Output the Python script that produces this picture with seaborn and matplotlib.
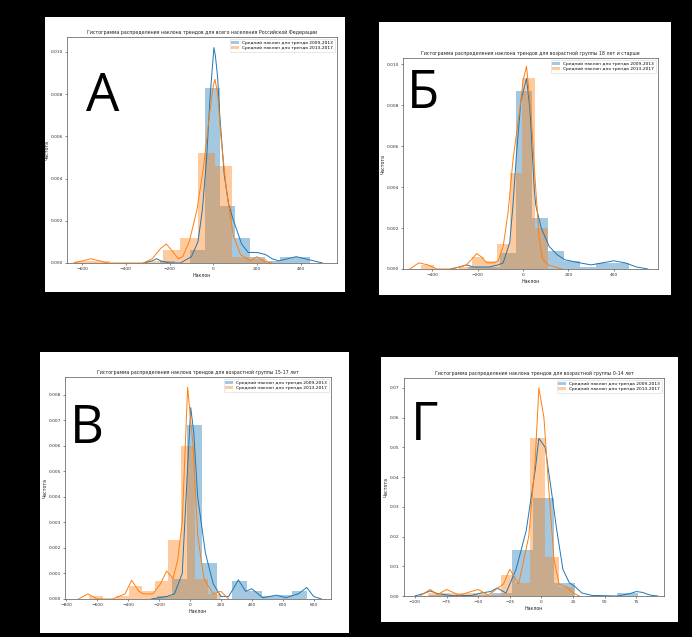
import numpy as np
import pandas as pd
import matplotlib
matplotlib.use('Agg')
import matplotlib.pyplot as plt
import seaborn as sns
from matplotlib.patches import Rectangle, Patch

# ---- data ----
LEGEND_LABELS = ['Средний наклон для тренда 2009-2013', 'Средний наклон для тренда 2013-2017']

A_TITLE = 'Гистограмма распределения наклона трендов для всего населения Российской Федерации'
A_BLUE_EDGES = [-245, -176, -107, -38, 31, 100, 169, 238, 307, 376, 445]
A_BLUE_HEIGHTS = [0.0001, 0.0, 0.0006, 0.0083, 0.0027, 0.0012, 0.0003, 0.0001, 0.0003, 0.0003]
A_ORANGE_EDGES = [-632, -552, -472, -392, -312, -232, -152, -72, 8, 88, 168, 248]
A_ORANGE_HEIGHTS = [0.0001, 0.0001, 0.0, 0.0, 0.0001, 0.0006, 0.0012, 0.0052, 0.0046, 0.0003, 0.0002]
A_BLUE_KDE_X = [-320, -280, -260, -240, -200, -150, -100, -70, -50, -30, -15, 0, 3, 10, 20, 30, 50, 70, 90, 110, 130, 160, 200, 240, 270, 300, 340, 380, 420, 460, 500]
A_BLUE_KDE_Y = [0.0, 0.0001, 0.0002, 0.0001, 0.0, 0.0, 0.0003, 0.0010, 0.0025, 0.0050, 0.0078, 0.0098, 0.0102, 0.0098, 0.0088, 0.0070, 0.0042, 0.0028, 0.0021, 0.0015, 0.0009, 0.0005, 0.0005, 0.0004, 0.0002, 0.0001, 0.0002, 0.0003, 0.0002, 0.0001, 0.0]
A_ORANGE_KDE_X = [-640, -600, -560, -520, -480, -400, -320, -280, -240, -215, -190, -160, -140, -110, -75, -45, -20, 0, 8, 20, 35, 60, 92, 125, 170, 200, 230, 270]
A_ORANGE_KDE_Y = [0.0, 0.0001, 0.0002, 0.0001, 0.0, 0.0, 0.0, 0.0002, 0.0007, 0.0009, 0.0006, 0.0002, 0.0003, 0.0010, 0.0025, 0.0045, 0.0068, 0.0084, 0.0087, 0.0080, 0.0060, 0.0035, 0.0013, 0.0004, 0.0001, 0.0003, 0.0001, 0.0]

B_TITLE = 'Гистограмма распределения наклона трендов для возрастной группы 18 лет и старше'
B_BLUE_EDGES = [-245, -174, -103, -32, 39, 110, 181, 252, 323, 394, 465]
B_BLUE_HEIGHTS = [0.0001, 0.0001, 0.0008, 0.0087, 0.0025, 0.0009, 0.0004, 0.0001, 0.0003, 0.0003]
B_ORANGE_EDGES = [-451, -395, -339, -283, -227, -171, -115, -59, -3, 53, 109]
B_ORANGE_HEIGHTS = [0.0002, 0.0, 0.0, 0.0001, 0.0006, 0.00037, 0.0012, 0.0047, 0.0093, 0.0020]
B_BLUE_KDE_X = [-320, -280, -250, -220, -200, -150, -110, -88, -59, -45, -30, -10, 15, 30, 49, 56, 80, 115, 150, 184, 250, 300, 350, 400, 450, 500, 550]
B_BLUE_KDE_Y = [0.0, 0.0001, 0.0002, 0.0001, 0.0001, 0.0001, 0.0002, 0.0003, 0.0013, 0.0031, 0.0055, 0.0082, 0.0093, 0.0078, 0.0039, 0.0031, 0.0020, 0.0011, 0.0007, 0.00045, 0.0003, 0.0002, 0.0003, 0.0004, 0.0003, 0.0001, 0.0]
B_ORANGE_KDE_X = [-500, -460, -420, -380, -320, -280, -250, -225, -205, -185, -160, -130, -110, -88, -66, -45, -15, 0, 15, 37, 52, 70, 85, 110, 140, 170]
B_ORANGE_KDE_Y = [0.0, 0.0003, 0.0002, 0.0, 0.0, 0.0001, 0.0002, 0.0005, 0.00075, 0.0006, 0.0003, 0.0003, 0.0004, 0.0011, 0.0028, 0.0053, 0.0078, 0.0092, 0.0099, 0.0073, 0.0045, 0.0016, 0.0005, 0.0002, 0.0001, 0.0]

C_TITLE = 'Гистограмма распределения наклона трендов для возрастной группы 15-17 лет'
C_BLUE_EDGES = [-215, -118, -21, 76, 173, 270, 367, 464, 561, 658, 755]
C_BLUE_HEIGHTS = [0.0001, 0.0008, 0.0068, 0.0014, 0.0, 0.0007, 0.0003, 0.0001, 0.00015, 0.0003]
C_ORANGE_EDGES = [-650, -565, -480, -395, -310, -225, -140, -55, 30, 115, 200]
C_ORANGE_HEIGHTS = [0.0001, 0.0, 0.0001, 0.0005, 0.0003, 0.0007, 0.0023, 0.0060, 0.0008, 0.0002]
C_BLUE_KDE_X = [-250, -150, -100, -50, -25, 5, 25, 50, 100, 150, 200, 250, 280, 313, 360, 400, 470, 560, 620, 700, 755, 800, 850]
C_BLUE_KDE_Y = [0.0, 0.0001, 0.0002, 0.0010, 0.0040, 0.0075, 0.0065, 0.0040, 0.0018, 0.0006, 0.0001, 0.0001, 0.0004, 0.00075, 0.0003, 0.0004, 0.00005, 0.00015, 0.00005, 0.0002, 0.00045, 0.0001, 0.0]
C_ORANGE_KDE_X = [-720, -660, -600, -500, -420, -377, -330, -300, -240, -190, -151, -110, -80, -50, -15, 20, 50, 90, 150, 200, 250]
C_ORANGE_KDE_Y = [0.0, 0.0002, 0.0, 0.0, 0.0002, 0.00073, 0.0003, 0.0002, 0.0002, 0.0006, 0.0011, 0.0008, 0.0015, 0.0030, 0.0083, 0.0060, 0.0025, 0.0008, 0.0002, 0.0003, 0.0]

D_TITLE = 'Гистограмма распределения наклона трендов для возрастной группы 0-14 лет'
D_BLUE_EDGES = [-89, -72.5, -56, -39.5, -23, -6.5, 10, 26.5, 43, 59.5, 76, 92.5]
D_BLUE_HEIGHTS = [0.0005, 0.0, 0.0002, 0.0010, 0.0155, 0.0330, 0.0045, 0.0, 0.0, 0.0010, 0.0]
D_ORANGE_EDGES = [-89.5, -78, -66.5, -55, -43.5, -32, -20.5, -9, 2.5, 14, 25.5]
D_ORANGE_HEIGHTS = [0.0010, 0.0010, 0.0010, 0.0010, 0.0005, 0.0070, 0.0045, 0.0530, 0.0130, 0.0030]
D_BLUE_KDE_X = [-100, -92, -88, -82, -70, -55, -48, -40, -35, -28, -20, -12, -5, -2, 3, 8, 12, 17, 22, 27, 32, 40, 60, 70, 75, 80, 86, 92]
D_BLUE_KDE_Y = [0.0, 0.0010, 0.0017, 0.0008, 0.0001, 0.0002, 0.0010, 0.0015, 0.0027, 0.0010, 0.0090, 0.0220, 0.0420, 0.0530, 0.0500, 0.0350, 0.0225, 0.0090, 0.0045, 0.0030, 0.0010, 0.0002, 0.0, 0.0008, 0.0015, 0.0012, 0.0003, 0.0]
D_ORANGE_KDE_X = [-96, -88, -82, -75, -65, -50, -42, -30, -25, -18, -10, -5, -2, 2, 6, 10, 14, 20, 25, 30]
D_ORANGE_KDE_Y = [0.0, 0.0022, 0.0005, 0.0022, 0.0003, 0.0022, 0.0003, 0.0040, 0.0090, 0.0040, 0.0200, 0.0450, 0.0700, 0.0600, 0.0350, 0.0120, 0.0040, 0.0030, 0.0010, 0.0]

# ---- layout (pixels in a 692x637 canvas) ----
W, H = 692, 637
panels = [
    dict(sheet=(45, 17, 345, 292), box=(67, 37, 337, 263), xlim=(-670, 567), ylim=(0, 0.0107),
         yticks=np.arange(0, 0.0101, 0.002), fmt='{:.3f}', letter='А', lpos=(86, 111),
         title=A_TITLE, be=A_BLUE_EDGES, bh=A_BLUE_HEIGHTS, oe=A_ORANGE_EDGES, oh=A_ORANGE_HEIGHTS,
         bkx=A_BLUE_KDE_X, bky=A_BLUE_KDE_Y, okx=A_ORANGE_KDE_X, oky=A_ORANGE_KDE_Y),
    dict(sheet=(379, 22, 671, 295), box=(403, 58, 658, 269), xlim=(-530, 595), ylim=(0, 0.0103),
         yticks=np.arange(0, 0.0101, 0.002), fmt='{:.3f}', letter='Б', lpos=(407, 108),
         title=B_TITLE, be=B_BLUE_EDGES, bh=B_BLUE_HEIGHTS, oe=B_ORANGE_EDGES, oh=B_ORANGE_HEIGHTS,
         bkx=B_BLUE_KDE_X, bky=B_BLUE_KDE_Y, okx=B_ORANGE_KDE_X, oky=B_ORANGE_KDE_Y),
    dict(sheet=(40, 352, 349, 633), box=(65, 377, 331, 599), xlim=(-808, 912), ylim=(0, 0.0087),
         yticks=np.arange(0, 0.0081, 0.001), fmt='{:.3f}', letter='В', lpos=(70, 443),
         title=C_TITLE, be=C_BLUE_EDGES, bh=C_BLUE_HEIGHTS, oe=C_ORANGE_EDGES, oh=C_ORANGE_HEIGHTS,
         bkx=C_BLUE_KDE_X, bky=C_BLUE_KDE_Y, okx=C_ORANGE_KDE_X, oky=C_ORANGE_KDE_Y),
    dict(sheet=(381, 357, 678, 622), box=(404, 378, 664, 596), xlim=(-108.6, 96.9), ylim=(0, 0.0733),
         yticks=np.arange(0, 0.071, 0.01), fmt='{:.2f}', letter='Г', lpos=(411, 440),
         title=D_TITLE, be=D_BLUE_EDGES, bh=D_BLUE_HEIGHTS, oe=D_ORANGE_EDGES, oh=D_ORANGE_HEIGHTS,
         bkx=D_BLUE_KDE_X, bky=D_BLUE_KDE_Y, okx=D_ORANGE_KDE_X, oky=D_ORANGE_KDE_Y),
]

fig = plt.figure(figsize=(W / 100, H / 100), dpi=100, facecolor='black')

BLUE, ORANGE = '#1f77b4', '#ff7f0e'

for p in panels:
    x0, y0, x1, y1 = p['sheet']
    fig.patches.append(Rectangle((x0 / W, 1 - y1 / H), (x1 - x0) / W, (y1 - y0) / H,
                                 transform=fig.transFigure, facecolor='white', edgecolor='none', zorder=-10))
    bx0, by0, bx1, by1 = p['box']
    ax = fig.add_axes([bx0 / W, 1 - by1 / H, (bx1 - bx0) / W, (by1 - by0) / H])
    ax.set_facecolor('white')

    for edges, heights, col in [(p['be'], p['bh'], BLUE), (p['oe'], p['oh'], ORANGE)]:
        centers = [(a + b) / 2 for a, b in zip(edges[:-1], edges[1:])]
        df = pd.DataFrame({'x': centers, 'w': heights})
        sns.histplot(data=df, x='x', weights='w', bins=list(edges), stat='count', color=col,
                     alpha=0.4, linewidth=0, ax=ax)
    sns.lineplot(x=p['bkx'], y=p['bky'], color=BLUE, linewidth=0.7, ax=ax, estimator=None)
    sns.lineplot(x=p['okx'], y=p['oky'], color=ORANGE, linewidth=0.7, ax=ax, estimator=None)

    ax.set_xlim(*p['xlim'])
    ax.set_ylim(*p['ylim'])
    ax.set_yticks(p['yticks'])
    ax.set_yticklabels([p['fmt'].format(v) for v in p['yticks']])
    ax.tick_params(labelsize=3.2, length=1.5, width=0.4, pad=1.5, colors='#333333')
    for s in ax.spines.values():
        s.set_linewidth(0.5)
        s.set_color('#555555')
    ax.set_title(p['title'], fontsize=3.4, pad=2.5, color='#222222')
    ax.set_xlabel('Наклон', fontsize=3.4, labelpad=1.5, color='#222222')
    ax.set_ylabel('Частота', fontsize=3.4, labelpad=0.8, color='#222222')
    handles = [Patch(facecolor=BLUE, alpha=0.4), Patch(facecolor=ORANGE, alpha=0.4)]
    leg = ax.legend(handles, LEGEND_LABELS, loc='upper right', fontsize=3.2, frameon=True,
                    handlelength=1.6, handleheight=0.6, borderpad=0.4, labelspacing=0.3)
    leg.get_frame().set_linewidth(0.4)

    lx, ly = p['lpos']
    fig.text(lx / W, 1 - ly / H, p['letter'], fontsize=38, color='black',
             family=['Open Sans', 'DejaVu Sans'], ha='left', va='baseline')

fig.savefig('out.png', dpi=100, facecolor='black')
